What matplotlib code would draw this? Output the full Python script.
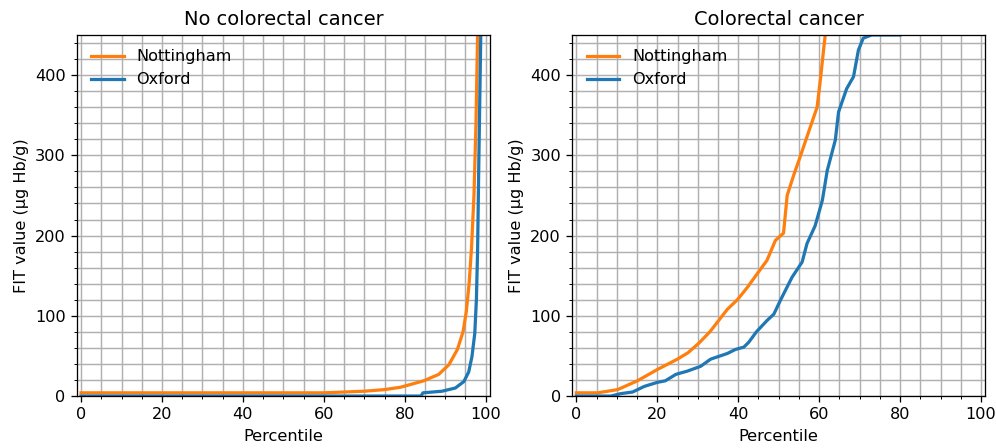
import matplotlib
matplotlib.use("Agg")
import matplotlib.pyplot as plt
from matplotlib.ticker import MultipleLocator

# Percentile curves of FIT value, per centre and outcome group
no_crc_nott_pct = [0, 60, 65, 70, 75, 79, 84.7, 88.4, 90.9, 93.0, 94.4, 95.2, 95.9, 96.5, 97.1, 97.6, 98.0, 98.3]
no_crc_nott_fit = [4, 4, 5, 6, 8, 11, 19, 27, 39, 58, 80, 105, 140, 185, 250, 340, 450, 600]

no_crc_oxf_pct = [0, 84.0, 84.5, 89.2, 92.5, 94.6, 95.8, 96.6, 97.3, 97.7, 98.0, 98.3, 98.8, 99.1]
no_crc_oxf_fit = [0, 0, 4, 6, 10, 18, 30, 49, 78, 120, 182, 291, 455, 600]

crc_nott_pct = [0, 5.3, 10.2, 15.1, 20.0, 25.0, 27.6, 30.3, 33.0, 37.3, 39.8, 42.2, 45.5, 47.1, 49.2,
                51.2, 52.1, 53.7, 55.3, 57.8, 59.5, 60.3, 61.5, 63.0]
crc_nott_fit = [4, 4, 8, 19, 33, 46, 54, 66, 80, 108, 120, 135, 158, 169, 194,
                203, 250, 275, 298, 335, 360, 394, 450, 560]

crc_oxf_pct = [0, 8.5, 11.0, 13.9, 16.8, 20.0, 22.0, 24.6, 27.4, 30.7, 33.2, 37.3, 39.3, 41.4, 42.6,
               44.5, 47.1, 48.8, 50.4, 53.3, 55.8, 57.0, 59.0, 60.3, 60.8, 62.0, 64.0, 64.8,
               66.8, 68.5, 69.7, 70.9, 73.0, 80.0]
crc_oxf_fit = [0, 0, 3, 5, 12, 17, 19, 27, 31, 37, 46, 53, 58, 61, 67,
               80, 94, 102, 119, 148, 167, 190, 212, 235, 244, 281, 319, 354,
               383, 398, 431, 446, 450, 450]

panels = [
    ("No colorectal cancer", no_crc_nott_pct, no_crc_nott_fit, no_crc_oxf_pct, no_crc_oxf_fit),
    ("Colorectal cancer", crc_nott_pct, crc_nott_fit, crc_oxf_pct, crc_oxf_fit),
]

dpi = 116
fig, axes = plt.subplots(1, 2, figsize=(996 / dpi, 448 / dpi), dpi=dpi)
fig.subplots_adjust(left=0.0773, right=0.989, bottom=0.116, top=0.922, wspace=0.2)

for ax, (title, n_pct, n_fit, o_pct, o_fit) in zip(axes, panels):
    ax.plot(n_pct, n_fit, color="#ff7f0e", lw=2, label="Nottingham")
    ax.plot(o_pct, o_fit, color="#1f77b4", lw=2, label="Oxford")
    ax.set_xlim(-1, 101)
    ax.set_ylim(0, 450)
    ax.xaxis.set_major_locator(MultipleLocator(20))
    ax.xaxis.set_minor_locator(MultipleLocator(5))
    ax.yaxis.set_major_locator(MultipleLocator(100))
    ax.yaxis.set_minor_locator(MultipleLocator(20))
    ax.grid(which="both", color="#b0b0b0", linewidth=0.9)
    ax.set_axisbelow(True)
    ax.set_title(title)
    ax.set_xlabel("Percentile")
    ax.set_ylabel("FIT value (µg Hb/g)")
    ax.legend(loc="upper left", frameon=False)

fig.savefig("out.png", dpi=dpi)
